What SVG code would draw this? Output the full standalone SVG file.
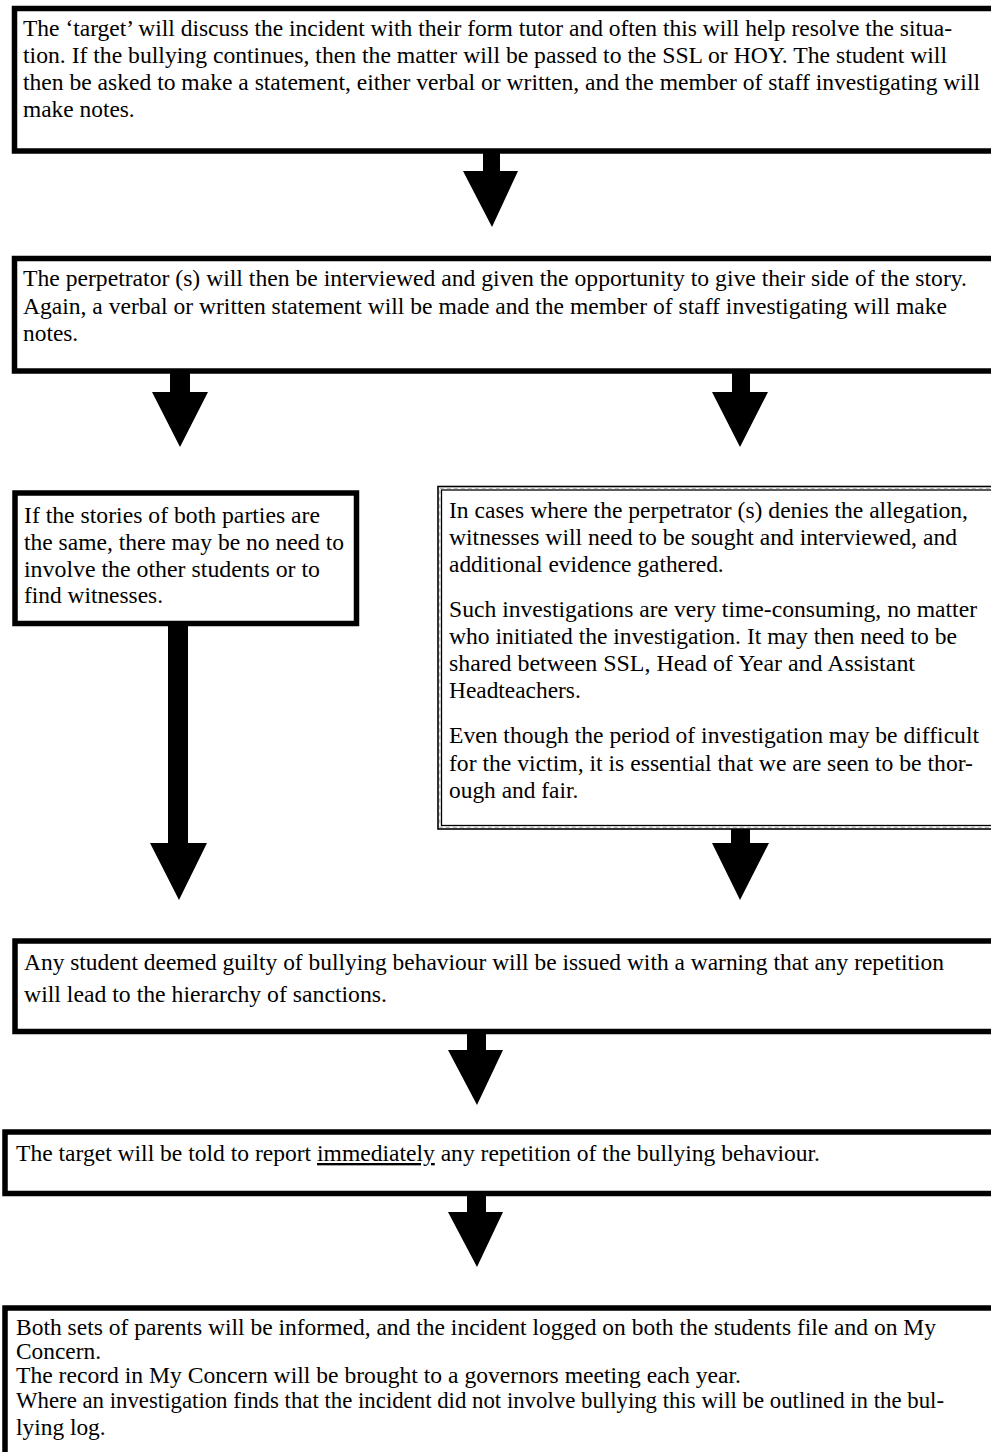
<svg xmlns="http://www.w3.org/2000/svg" width="991" height="1452" viewBox="0 0 991 1452">
<style>
.box{fill:#fff;stroke:#000;stroke-width:5.5}
.dbl-o{fill:#fff;stroke:#000;stroke-width:1.6}
.dbl-i{fill:none;stroke:#000;stroke-width:1.3}
.dbl-m{fill:none;stroke:#aaa;stroke-width:1;stroke-dasharray:4 3}
.arr{fill:#000;stroke:none}
text{font-family:"Liberation Serif","Times New Roman",serif;font-size:23.4px;fill:#000}
</style>
<g id="connectors">
<path class="arr" d="M483,152 H500 V171 H518 L492,227 L463,171 H483 Z"/>
<path class="arr" d="M170,372 H190 V392 H208 L180,447 L152,392 H170 Z"/>
<path class="arr" d="M732,372 H750 V392 H768 L740,447 L712,392 H732 Z"/>
<path class="arr" d="M168,625 H188 V843 H207 L179,900 L150,843 H168 Z"/>
<path class="arr" d="M731,828 H750 V843 H769 L740,900 L712,843 H731 Z"/>
<path class="arr" d="M467,1033 H486 V1050 H503 L477,1105 L448,1050 H467 Z"/>
<path class="arr" d="M467,1195 H486 V1212 H503 L477,1267 L448,1212 H467 Z"/>
</g>
<g id="node-target">
<rect class="box" x="14.5" y="8.5" width="990" height="142.5"/>
<text x="23" y="36" textLength="929" lengthAdjust="spacingAndGlyphs">The ‘target’ will discuss the incident with their form tutor and often this will help resolve the situa-</text>
<text x="23" y="63" textLength="924" lengthAdjust="spacingAndGlyphs">tion. If the bullying continues, then the matter will be passed to the SSL or HOY. The student will</text>
<text x="23" y="90" textLength="957" lengthAdjust="spacingAndGlyphs">then be asked to make a statement, either verbal or written, and the member of staff investigating will</text>
<text x="23" y="117">make notes.</text>
</g>
<g id="node-perpetrator">
<rect class="box" x="14.5" y="258.5" width="990" height="112.5"/>
<text x="23" y="286" textLength="944" lengthAdjust="spacingAndGlyphs">The perpetrator (s) will then be interviewed and given the opportunity to give their side of the story.</text>
<text x="23" y="314" textLength="924" lengthAdjust="spacingAndGlyphs">Again, a verbal or written statement will be made and the member of staff investigating will make</text>
<text x="23" y="341">notes.</text>
</g>
<g id="node-same">
<rect class="box" x="15" y="493" width="341.5" height="130.5"/>
<text x="24" y="523" textLength="296" lengthAdjust="spacingAndGlyphs">If the stories of both parties are</text>
<text x="24" y="550" textLength="320" lengthAdjust="spacingAndGlyphs">the same, there may be no need to</text>
<text x="24" y="577" textLength="296" lengthAdjust="spacingAndGlyphs">involve the other students or to</text>
<text x="24" y="603">find witnesses.</text>
</g>
<g id="node-denies">
<rect class="dbl-o" x="438" y="486.5" width="560" height="342.5"/>
<rect class="dbl-m" x="439.8" y="488.3" width="560" height="339"/>
<rect class="dbl-i" x="441.5" y="490" width="560" height="335.5"/>
<text x="449" y="518" textLength="519" lengthAdjust="spacingAndGlyphs">In cases where the perpetrator (s) denies the allegation,</text>
<text x="449" y="545" textLength="508" lengthAdjust="spacingAndGlyphs">witnesses will need to be sought and interviewed, and</text>
<text x="449" y="572">additional evidence gathered.</text>
<text x="449" y="617" textLength="528" lengthAdjust="spacingAndGlyphs">Such investigations are very time-consuming, no matter</text>
<text x="449" y="644" textLength="508" lengthAdjust="spacingAndGlyphs">who initiated the investigation. It may then need to be</text>
<text x="449" y="671" textLength="466" lengthAdjust="spacingAndGlyphs">shared between SSL, Head of Year and Assistant</text>
<text x="449" y="698">Headteachers.</text>
<text x="449" y="743" textLength="530" lengthAdjust="spacingAndGlyphs">Even though the period of investigation may be difficult</text>
<text x="449" y="771" textLength="524" lengthAdjust="spacingAndGlyphs">for the victim, it is essential that we are seen to be thor-</text>
<text x="449" y="798">ough and fair.</text>
</g>
<g id="node-warning">
<rect class="box" x="15" y="941" width="990" height="90.5"/>
<text x="24" y="970" textLength="920" lengthAdjust="spacingAndGlyphs">Any student deemed guilty of bullying behaviour will be issued with a warning that any repetition</text>
<text x="24" y="1002" textLength="363" lengthAdjust="spacingAndGlyphs">will lead to the hierarchy of sanctions.</text>
</g>
<g id="node-report">
<rect class="box" x="5" y="1132" width="1000" height="61.5"/>
<text x="16" y="1161" textLength="804" lengthAdjust="spacingAndGlyphs">The target will be told to report <tspan text-decoration="underline">immediately</tspan> any repetition of the bullying behaviour.</text>
</g>
<g id="node-parents">
<rect class="box" x="5" y="1308" width="1000" height="160"/>
<text x="16" y="1335" textLength="920" lengthAdjust="spacingAndGlyphs">Both sets of parents will be informed, and the incident logged on both the students file and on My</text>
<text x="16" y="1359">Concern.</text>
<text x="16" y="1383" textLength="725" lengthAdjust="spacingAndGlyphs">The record in My Concern will be brought to a governors meeting each year.</text>
<text x="16" y="1408" textLength="928" lengthAdjust="spacingAndGlyphs">Where an investigation finds that the incident did not involve bullying this will be outlined in the bul-</text>
<text x="16" y="1435">lying log.</text>
</g>
</svg>
